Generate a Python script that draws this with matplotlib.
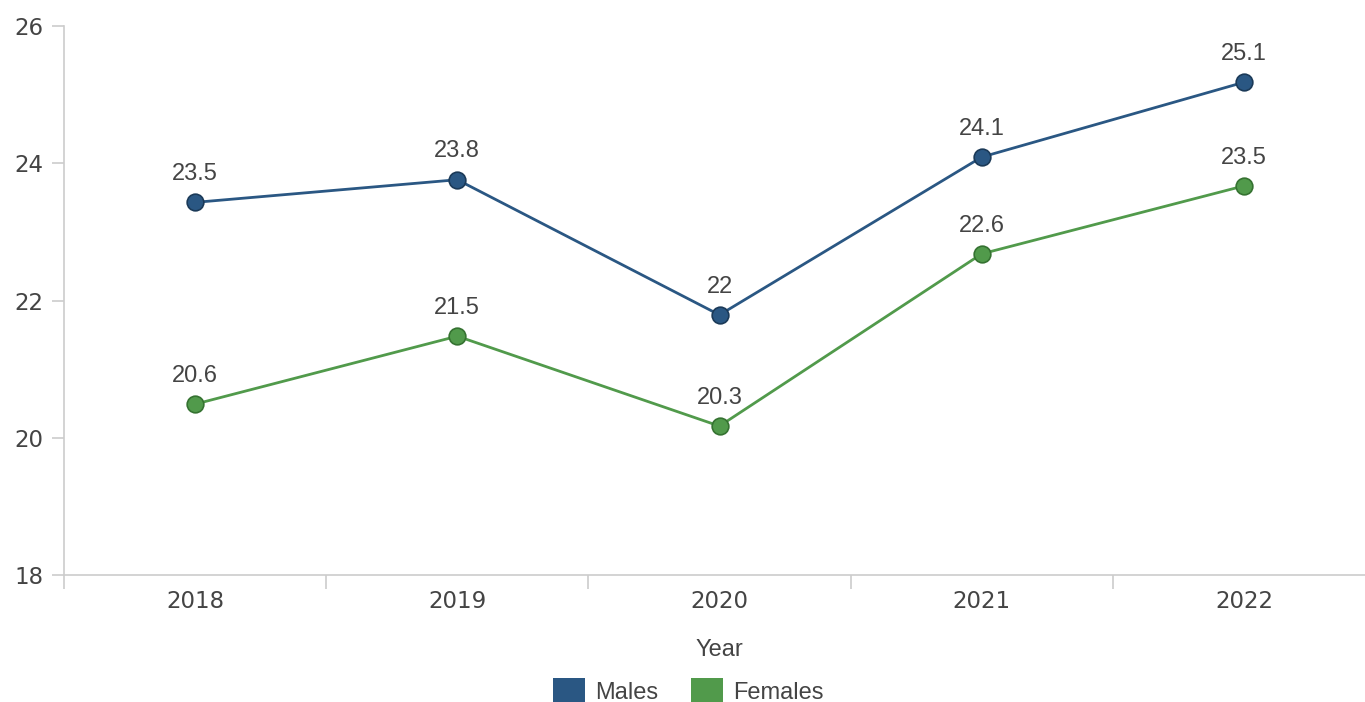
import numpy as np
import matplotlib
matplotlib.use("Agg")
import matplotlib.pyplot as plt
from matplotlib.patches import Patch

years = ["2018", "2019", "2020", "2021", "2022"]
males = [23.43, 23.76, 21.79, 24.09, 25.18]
females = [20.49, 21.48, 20.17, 22.68, 23.67]
males_labels = ["23.5", "23.8", "22", "24.1", "25.1"]
females_labels = ["20.6", "21.5", "20.3", "22.6", "23.5"]

male_col = "#2a5783"
female_col = "#519a4b"

fig = plt.figure(figsize=(13.65, 7.02), dpi=100)
ax = fig.add_axes([64 / 1365, 127 / 702, 1311 / 1365, 549 / 702])

x = np.arange(len(years))
ax.plot(x, males, color=male_col, lw=2.0, marker="o", ms=12,
        mfc=male_col, mec="#1b3a58", mew=1.2, zorder=3)
ax.plot(x, females, color=female_col, lw=2.0, marker="o", ms=12,
        mfc=female_col, mec="#357231", mew=1.2, zorder=3)

for xi, v, s in zip(x, males, males_labels):
    ax.annotate(s, (xi, v), xytext=(0, 16), textcoords="offset points",
                ha="center", va="baseline", fontsize=17, color="#444444",
                family="Liberation Sans")
for xi, v, s in zip(x, females, females_labels):
    ax.annotate(s, (xi, v), xytext=(0, 16), textcoords="offset points",
                ha="center", va="baseline", fontsize=17, color="#444444",
                family="Liberation Sans")

ax.set_xlim(-0.5, 4.5)
ax.set_ylim(18, 26)
ax.set_yticks([18, 20, 22, 24, 26])
ax.set_xticks(x)
ax.set_xticklabels(years)
ax.set_xticks(np.arange(-0.5, 4.6, 1), minor=True)

for s in ["top", "right"]:
    ax.spines[s].set_visible(False)
for s in ["left", "bottom"]:
    ax.spines[s].set_color("#cccccc")
    ax.spines[s].set_linewidth(1.2)

ax.tick_params(axis="y", length=9, width=1.2, color="#cccccc",
               labelsize=16.5, labelcolor="#444444", pad=6)
ax.tick_params(axis="x", which="major", length=0, labelsize=16.5,
               labelcolor="#444444", pad=11)
ax.tick_params(axis="x", which="minor", length=10, width=1.2, color="#cccccc")

fig.text(719 / 1365, 1 - 650 / 702, "Year", ha="center", va="center",
         fontsize=17, color="#444444", family="Liberation Sans")

handles = [Patch(facecolor=male_col, label="Males"),
           Patch(facecolor=female_col, label="Females")]
fig.legend(handles=handles, loc="center", bbox_to_anchor=(688 / 1365, 1 - 691 / 702),
           ncol=2, frameon=False, handlelength=1.35, handleheight=1.35,
           handletextpad=0.42, columnspacing=1.4, borderpad=0,
           prop={"family": "Liberation Sans", "size": 17}, labelcolor="#444444")

fig.savefig("out.png", dpi=100)
